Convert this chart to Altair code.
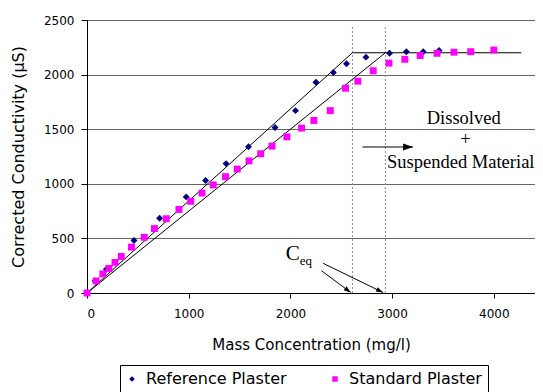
import altair as alt
import pandas as pd

# ---- data ----
series = ["Reference Plaster", "Standard Plaster"]
series_colors = ["#000080", "#FF00FF"]
series_shapes = ["diamond", "square"]

ref_x = [0, 80, 191, 462, 714, 975, 1166, 1367, 1588, 1849, 2050, 2251, 2422, 2552, 2743, 2975, 3140, 3306, 3462]
ref_y = [0, 110, 217, 480, 685, 880, 1030, 1185, 1340, 1515, 1670, 1930, 2020, 2100, 2160, 2195, 2210, 2210, 2220]

std_x = [0, 90, 156, 216, 276, 337, 437, 563, 663, 779, 904, 1020, 1131, 1241, 1362, 1477, 1593,
         1708, 1819, 1965, 2110, 2231, 2392, 2542, 2663, 2814, 2969, 3125, 3276, 3442, 3608, 3773, 4000]
std_y = [0, 110, 175, 225, 280, 335, 420, 510, 590, 680, 765, 840, 915, 990, 1065, 1135, 1210,
         1275, 1345, 1430, 1510, 1580, 1670, 1875, 1940, 2035, 2105, 2140, 2175, 2195, 2205, 2210, 2225]

fit1_x = [0, 2610, 4271]
fit1_y = [0, 2200, 2200]
fit2_x = [0, 2934]
fit2_y = [0, 2200]

ceq_x = [2610, 2934]
ceq_top = [2450, 2450]

arrow_x = [2305, 2321, 2708]
arrow_y = [204, 272, 1337]
arrow_x2 = [2593, 2911, 3206]
arrow_y2 = [5, 5, 1337]
arrow_angle = [127, 116, 90]
arrow_size = [49, 49, 100]

note_text = ["Dissolved", "+", "Suspended Material"]
note_x = [3704, 3721, 3675]
note_y = [1548, 1359, 1142]

ceq_label_x = [1954]
ceq_label_y = [300]
ceq_sub_x = [2091]
ceq_sub_y = [255]

x_ticks = [0, 1000, 2000, 3000, 4000]
y_ticks = [0, 500, 1000, 1500, 2000, 2500]

# ---- tables ----
pts = pd.DataFrame({
    "x": ref_x + std_x,
    "y": ref_y + std_y,
    "s": [series[0]] * len(ref_x) + [series[1]] * len(std_x),
})
fit = pd.DataFrame({
    "x": fit1_x + fit2_x,
    "y": fit1_y + fit2_y,
    "line": ["a"] * len(fit1_x) + ["b"] * len(fit2_x),
    "o": list(range(len(fit1_x))) + list(range(len(fit2_x))),
})
vlines = pd.DataFrame({"x": ceq_x, "y": [0, 0], "y2": ceq_top})
arrows = pd.DataFrame({"x": arrow_x, "y": arrow_y, "x2": arrow_x2, "y2": arrow_y2,
                       "a": arrow_angle, "sz": arrow_size})
notes = pd.DataFrame({"x": note_x, "y": note_y, "t": note_text})
ceq_c = pd.DataFrame({"x": ceq_label_x, "y": ceq_label_y, "t": ["C"]})
ceq_s = pd.DataFrame({"x": ceq_sub_x, "y": ceq_sub_y, "t": ["eq"]})

SANS = "DejaVu Sans"
SERIF = "Liberation Serif"

xs = alt.Scale(domain=[0, 4405], nice=False, zero=False)
ys = alt.Scale(domain=[0, 2500], nice=False)

x_axis = alt.Axis(values=x_ticks, format="d", grid=False, tickSize=5, tickColor="black",
                  domainColor="black", labelFont=SANS, labelFontSize=12, labelColor="black",
                  labelPadding=10,
                  title="Mass Concentration (mg/l)", titleFont=SANS, titleFontSize=15,
                  titleFontWeight="normal", titleColor="black", titleY=51, titleBaseline="middle")
y_axis = alt.Axis(values=y_ticks, format="d", grid=True, gridColor="#666666", gridWidth=1,
                  tickSize=6, tickColor="black", domainColor="black", labelFont=SANS,
                  labelFontSize=12, labelColor="black", labelPadding=7,
                  title="Corrected Conductivity (µS)", titleFont=SANS, titleFontSize=16,
                  titleFontWeight="normal", titleColor="black", titleX=-69, titleY=136.5,
                  titleBaseline="middle", titleAngle=270)


def X(f="x"):
    return alt.X(f"{f}:Q", scale=xs, axis=x_axis)


def Y(f="y"):
    return alt.Y(f"{f}:Q", scale=ys, axis=y_axis)


# border drawn around the legend (top, left and right edges; bottom lies off the page)
frame_top = alt.Chart().mark_rule(color="black", strokeWidth=1).encode(
    x=alt.value(33.5), x2=alt.value(401.5), y=alt.value(345.5))
frame_left = alt.Chart().mark_rule(color="black", strokeWidth=1).encode(
    x=alt.value(33.5), x2=alt.value(33.5), y=alt.value(345.5), y2=alt.value(372))
frame_right = alt.Chart().mark_rule(color="black", strokeWidth=1).encode(
    x=alt.value(401.5), x2=alt.value(401.5), y=alt.value(345.5), y2=alt.value(372))

grid_layer = alt.Chart(vlines).mark_rule(color="#8c8c8c", strokeDash=[2, 2], strokeWidth=1).encode(
    x=X(), y=Y(), y2="y2:Q")

fit_layer = alt.Chart(fit).mark_line(color="black", strokeWidth=1).encode(
    x=X(), y=Y(), detail="line:N", order="o:Q")

points = alt.Chart(pts).mark_point(filled=True, opacity=1, size=48).encode(
    x=X(), y=Y(),
    color=alt.Color("s:N", scale=alt.Scale(domain=series, range=series_colors),
                    legend=alt.Legend(title=None, orient="none", legendX=33, legendY=347,
                                      direction="horizontal", columns=2, columnPadding=40,
                                      labelFont=SANS, labelFontSize=16, labelColor="black",
                                      labelOffset=6, symbolSize=30, padding=4,
                                      symbolStrokeWidth=0, labelLimit=300)),
    shape=alt.Shape("s:N", scale=alt.Scale(domain=series, range=series_shapes)),
)

arrow_lines = alt.Chart(arrows).mark_rule(color="black", strokeWidth=1).encode(
    x=X(), y=Y(), x2="x2:Q", y2="y2:Q")
arrow_heads = alt.Chart(arrows).mark_point(filled=True, opacity=1, color="black",
                                           shape="M0,0L-0.7,2L0.7,2Z").encode(
    x=X("x2"), y=Y("y2"), angle=alt.Angle("a:Q", scale=None), size=alt.Size("sz:Q", scale=None))

note_layer = alt.Chart(notes).mark_text(font=SERIF, fontSize=18.5, color="black",
                                        align="center", baseline="alphabetic").encode(
    x=X(), y=Y(), text="t:N")
c_layer = alt.Chart(ceq_c).mark_text(font=SERIF, fontSize=21, color="black",
                                     align="left", baseline="alphabetic").encode(
    x=X(), y=Y(), text="t:N")
sub_layer = alt.Chart(ceq_s).mark_text(font=SERIF, fontSize=13, color="black",
                                       align="left", baseline="alphabetic").encode(
    x=X(), y=Y(), text="t:N")

chart = alt.layer(grid_layer, fit_layer, points, frame_top, frame_left, frame_right,
                  arrow_lines, arrow_heads, note_layer, c_layer, sub_layer).properties(
    width=448, height=273,
    autosize=alt.AutoSizeParams(type="none"),
    padding={"left": 79, "top": 12, "right": 0, "bottom": 99},
    background="white",
).configure_view(strokeWidth=0)

chart.save("out.html", embed_options={"renderer": "svg", "actions": False})
